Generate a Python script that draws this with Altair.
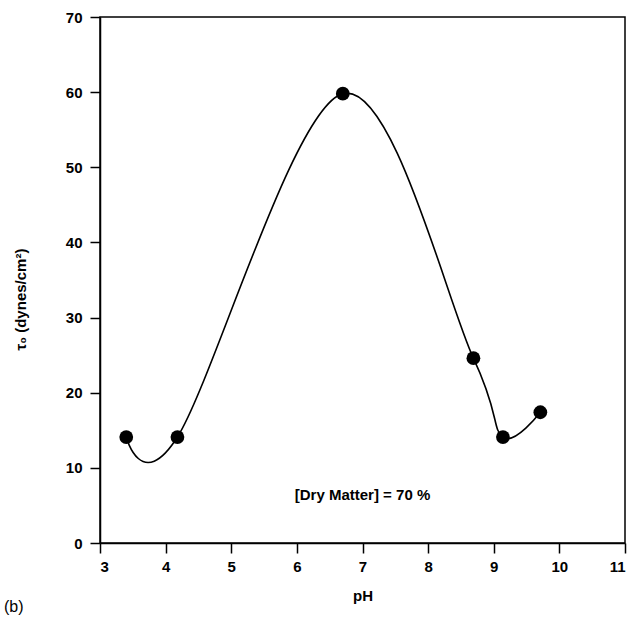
import altair as alt
import pandas as pd

ph = [3.4, 4.18, 6.7, 8.69, 9.14, 9.71]
tau0 = [14.1, 14.1, 59.8, 24.6, 14.1, 17.4]
x_ticks = [3, 4, 5, 6, 7, 8, 9, 10, 11]
y_ticks = [0, 10, 20, 30, 40, 50, 60, 70]
note_text = ["[Dry Matter] = 70 %"]
note_x = [7.0]
note_y = [6.4]

df = pd.DataFrame({"pH": ph, "tau": tau0})
note_df = pd.DataFrame({"x": note_x, "y": note_y, "t": note_text})

FONT = "Liberation Sans"

xs = alt.Scale(domain=[3, 11], nice=False, zero=False)
ys = alt.Scale(domain=[0, 70], nice=False)

xaxis = alt.Axis(values=x_ticks, format="d", title="pH", grid=False, domainColor="black",
                 domainWidth=1.5, tickColor="black", tickWidth=1.5, tickSize=10,
                 labelFont=FONT, labelFontWeight="bold", labelFontSize=15,
                 labelColor="black", labelPadding=6, titleFont=FONT,
                 titleFontWeight="bold", titleFontSize=15, titleColor="black",
                 titlePadding=14)
yaxis = alt.Axis(values=y_ticks, format="d", title="τ₀  (dynes/cm²)", grid=False,
                 domainColor="black", domainWidth=1.5, tickColor="black",
                 tickWidth=1.5, tickSize=10, labelFont=FONT,
                 labelFontWeight="bold", labelFontSize=15, labelColor="black",
                 labelPadding=8, titleFont=FONT, titleFontWeight="bold",
                 titleFontSize=15, titleColor="black", titleX=-80, titleY=282,
                 titleBaseline="middle", titleAngle=270)

line = alt.Chart(df).mark_line(color="black", strokeWidth=1.6,
                               interpolate="cardinal", tension=0).encode(
    x=alt.X("pH:Q", scale=xs, axis=xaxis),
    y=alt.Y("tau:Q", scale=ys, axis=yaxis),
)
pts = alt.Chart(df).mark_circle(color="black", opacity=1, size=190).encode(
    x=alt.X("pH:Q", scale=xs),
    y=alt.Y("tau:Q", scale=ys),
)
note = alt.Chart(note_df).mark_text(font=FONT, fontWeight="bold", fontSize=15,
                                    color="black").encode(
    x=alt.X("x:Q", scale=xs),
    y=alt.Y("y:Q", scale=ys),
    text="t:N",
)
blabel = alt.Chart(pd.DataFrame({"t": ["(b)"]})).mark_text(
    font=FONT, fontSize=16, color="black", align="left").encode(
    x=alt.value(-96), y=alt.value(590), text="t:N")

chart = alt.layer(line, pts, note, blabel).properties(
    width=525, height=526,
    autosize=alt.AutoSizeParams(type="none"),
    padding={"left": 100, "top": 17, "right": 14, "bottom": 85},
).configure_view(stroke="black", strokeWidth=1.5)

chart.save("out.html", embed_options={"renderer": "svg", "actions": False})
